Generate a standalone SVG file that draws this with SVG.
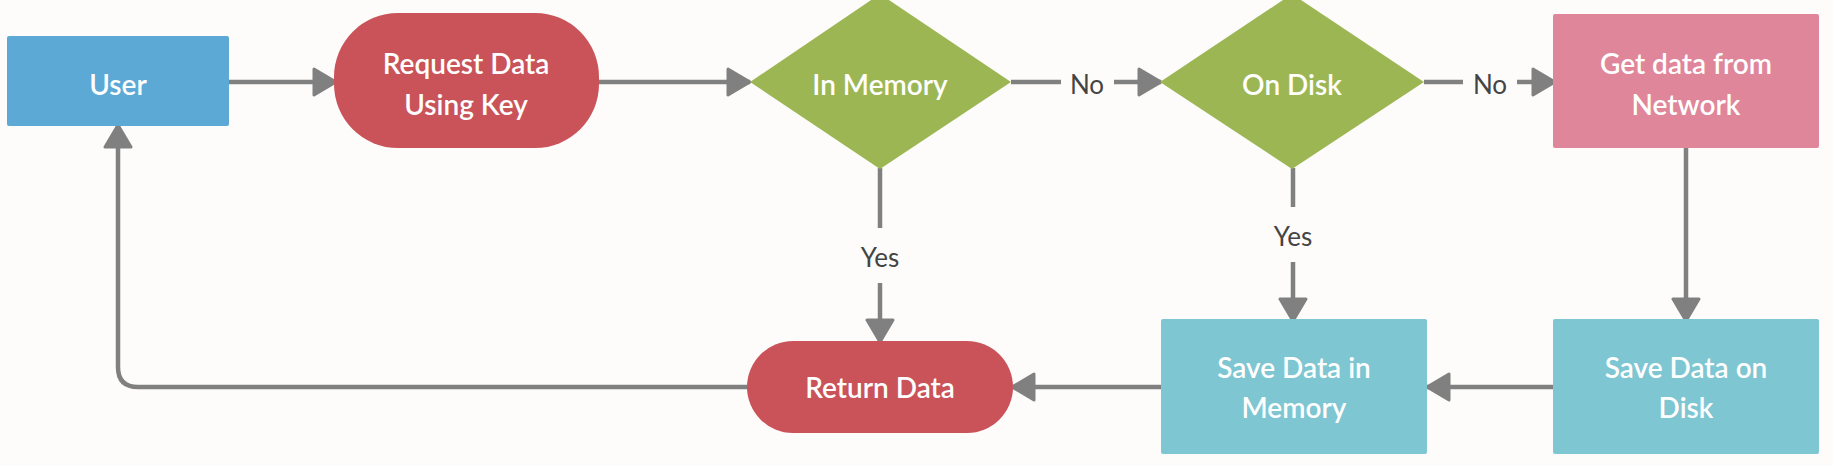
<svg xmlns="http://www.w3.org/2000/svg" width="1833" height="466" viewBox="0 0 1833 466">
<defs>
<style>
.t{font-family:Lato,"Open Sans","Liberation Sans",sans-serif;font-size:28px;fill:#ffffff;text-anchor:middle;dominant-baseline:central;font-weight:600}
.l{font-family:Lato,"Open Sans","Liberation Sans",sans-serif;font-size:26px;fill:#444444;text-anchor:middle;dominant-baseline:central}
.c{fill:none;stroke:#808080;stroke-width:4.5}
</style>
<marker id="ah" markerUnits="userSpaceOnUse" markerWidth="26" markerHeight="30" viewBox="0 0 26 30" refX="24" refY="15" orient="auto">
<path d="M2,2 L24,15 L2,28 Z" fill="#808080" stroke="#808080" stroke-width="3" stroke-linejoin="round"/>
</marker>
</defs>
<rect width="1833" height="466" fill="#fdfcfb"/>
<g id="connectors">
<path class="c" d="M223,82 H336" marker-end="url(#ah)"/>
<path class="c" d="M599,82 H750" marker-end="url(#ah)"/>
<path class="c" d="M1011,82 H1061 M1114,82 H1161" marker-end="url(#ah)"/>
<path class="c" d="M1424,82 H1463 M1517,82 H1555" marker-end="url(#ah)"/>
<path class="c" d="M880,168 V228 M880,283 V342" marker-end="url(#ah)"/>
<path class="c" d="M1293,168 V207 M1293,262 V321" marker-end="url(#ah)"/>
<path class="c" d="M1686,148 V321" marker-end="url(#ah)"/>
<path class="c" d="M1553,387 H1427" marker-end="url(#ah)"/>
<path class="c" d="M1161,387 H1012" marker-end="url(#ah)"/>
<path class="c" d="M748,387 H138 Q118,387 118,367 V125" marker-end="url(#ah)"/>
<text class="l" x="1087" y="84">No</text>
<text class="l" x="1490" y="84">No</text>
<text class="l" x="880" y="257">Yes</text>
<text class="l" x="1293" y="236">Yes</text>
</g>
<g id="user">
<rect x="7" y="36" width="222" height="90" rx="2" fill="#5ba9d4"/>
<text class="t" x="118" y="84">User</text>
</g>
<g id="request">
<rect x="334" y="13" width="265" height="135" rx="64" fill="#c95359"/>
<text class="t" x="466" y="63">Request Data</text>
<text class="t" x="466" y="104">Using Key</text>
</g>
<g id="inmemory">
<polygon points="880,-6 1011,82 880,169 750,82" fill="#9db654"/>
<text class="t" x="880" y="84">In Memory</text>
</g>
<g id="ondisk">
<polygon points="1292,-6 1424,82 1292,169 1160,82" fill="#9db654"/>
<text class="t" x="1292" y="84">On Disk</text>
</g>
<g id="network">
<rect x="1553" y="14" width="266" height="134" rx="2" fill="#df869a"/>
<text class="t" x="1686" y="63">Get data from</text>
<text class="t" x="1686" y="104">Network</text>
</g>
<g id="savedisk">
<rect x="1553" y="319" width="266" height="135" rx="2" fill="#7ec6d2"/>
<text class="t" x="1686" y="367">Save Data on</text>
<text class="t" x="1686" y="407">Disk</text>
</g>
<g id="savememory">
<rect x="1161" y="319" width="266" height="135" rx="2" fill="#7ec6d2"/>
<text class="t" x="1294" y="367">Save Data in</text>
<text class="t" x="1294" y="407">Memory</text>
</g>
<g id="returndata">
<rect x="747" y="341" width="266" height="92" rx="46" fill="#c95359"/>
<text class="t" x="880" y="387">Return Data</text>
</g>
</svg>
